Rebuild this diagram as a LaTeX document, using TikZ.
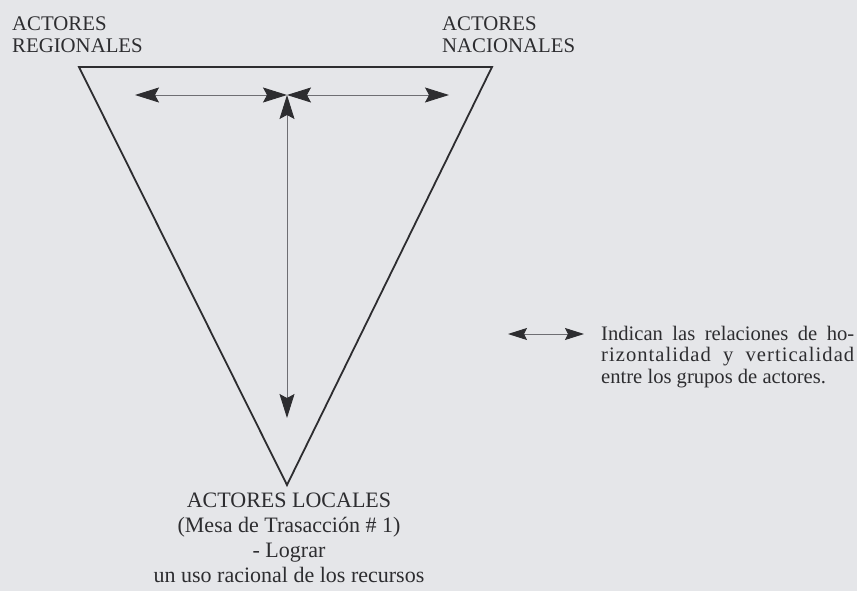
\documentclass[tikz,border=0pt]{standalone}
\usepackage{fontspec}
\setmainfont{Liberation Serif}
\usetikzlibrary{arrows.meta}
\definecolor{paper}{RGB}{229,230,233}
\definecolor{ink}{RGB}{45,45,48}
\definecolor{thin}{RGB}{110,110,115}
\tikzset{
  lbl/.style={inner sep=0pt, text=ink, font=\fontsize{20.8}{22.5}\selectfont, align=left},
  clbl/.style={inner sep=0pt, text=ink, font=\fontsize{22}{25}\selectfont, align=center},
  tri/.style={draw=ink, line width=1.8pt, line join=miter},
  rel/.style={draw=thin, line width=0.9pt,
    {Stealth[length=24pt,width=15pt,inset=4pt,color=ink]}-{Stealth[length=24pt,width=15pt,inset=4pt,color=ink]}},
  relsmall/.style={draw=thin, line width=0.9pt,
    {Stealth[length=19pt,width=12pt,inset=3pt,color=ink]}-{Stealth[length=19pt,width=12pt,inset=3pt,color=ink]}}
}
\begin{document}
\begin{tikzpicture}[x=1pt,y=-1pt]
\fill[paper] (0,0) rectangle (857,591);
\useasboundingbox (0,0) rectangle (857,591);
% triangle
\coordinate (tl) at (79,67);
\coordinate (tr) at (492,67);
\coordinate (bt) at (287,485);
\draw[tri] (tl) -- (tr) -- (bt) -- cycle;
% arrows
\coordinate (c) at (287,95);
\coordinate (l) at (135,95);
\coordinate (r) at (449,95);
\coordinate (d) at (287,418);
\draw[rel] (l) -- (c);
\draw[rel] (c) -- (r);
\draw[rel] (c) -- (d);
% labels
\node[lbl, anchor=base west] (reg) at (12,53) {ACTORES\\REGIONALES};
\node[lbl, anchor=base west] (nac) at (442,53) {ACTORES\\NACIONALES};
\node[clbl, anchor=base] (loc) at (289,582) {ACTORES LOCALES\\(Mesa de Trasacción \# 1)\\- Lograr\\un uso racional de los recursos};
% legend
\coordinate (la) at (508,334);
\coordinate (lb) at (584,334);
\draw[relsmall] (la) -- (lb);
\node[inner sep=0pt, text=ink, anchor=base west, align=left,
  font=\fontsize{20.6}{21.5}\selectfont] (leg) at (601,383)
  {\makebox[253pt][s]{Indican las relaciones de ho-}\\
   \makebox[253pt][s]{\addfontfeature{LetterSpace=5}rizontalidad y verticalidad}\\
   entre los grupos de actores.};
\end{tikzpicture}
\end{document}
